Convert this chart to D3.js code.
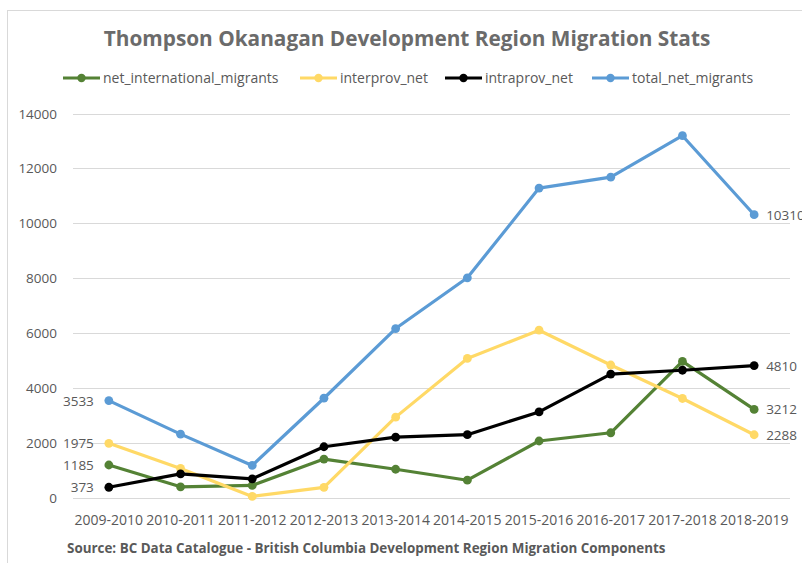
<!DOCTYPE html>
<html>
<head>
<meta charset="utf-8">
<script src="https://cdn.jsdelivr.net/npm/d3@7"></script>
<style>
  body { margin: 0; background: #fff; }
  text { font-family: "Open Sans", "Liberation Sans", sans-serif; fill: #595959; }
</style>
</head>
<body>
<script>
let years = ['2009-2010', '2010-2011', '2011-2012', '2012-2013', '2013-2014',
  '2014-2015', '2015-2016', '2016-2017', '2017-2018', '2018-2019']

let netInternational = [1185, 390, 440, 1400, 1030, 630, 2060, 2360, 4960, 3212]
let interprovNet = [1975, 1060, 40, 370, 2930, 5070, 6100, 4830, 3610, 2288]
let intraprovNet = [373, 860, 680, 1850, 2200, 2290, 3120, 4500, 4640, 4810]
let totalNet = [3533, 2310, 1170, 3620, 6160, 8010, 11280, 11680, 13190, 10310]

let seriesNames = ['net_international_migrants', 'interprov_net', 'intraprov_net', 'total_net_migrants']
let yTicks = [0, 2000, 4000, 6000, 8000, 10000, 12000, 14000]

let colors = ['#548235', '#ffd966', '#000000', '#5b9bd5']
let series = [netInternational, interprovNet, intraprovNet, totalNet]

let width = 802, height = 563

let svg = d3.select('body').append('svg')
  .attr('width', width)
  .attr('height', height)

// chart frame (runs off the right and bottom like the screenshot)
svg.append('rect')
  .attr('x', 7.5).attr('y', 10.5)
  .attr('width', 840).attr('height', 600)
  .attr('fill', 'none')
  .attr('stroke', '#d9d9d9')

let x = d3.scalePoint().domain(years).range([73, 790]).padding(0.5)
let y = d3.scaleLinear().domain([0, 14000]).range([497.5, 113.5])

// grid
svg.append('g').selectAll('line').data(yTicks).enter()
  .append('line')
  .attr('x1', 73).attr('x2', 790)
  .attr('y1', d => Math.round(y(d)) + 0.5)
  .attr('y2', d => Math.round(y(d)) + 0.5)
  .attr('stroke', '#d9d9d9')

// y labels
svg.append('g').selectAll('text').data(yTicks).enter()
  .append('text')
  .attr('x', 57)
  .attr('y', d => y(d) + 5)
  .attr('text-anchor', 'end')
  .style('font-size', '13.5px')
  .text(d => d)

// x labels
svg.append('g').selectAll('text').data(years).enter()
  .append('text')
  .attr('x', d => x(d))
  .attr('y', 525)
  .attr('text-anchor', 'middle')
  .style('font-size', '14px')
  .text(d => d)

let line = d3.line()
  .x((d, i) => x(years[i]))
  .y(d => y(d))

let g = svg.append('g').selectAll('g').data(series).enter().append('g')

g.append('path')
  .attr('d', d => line(d))
  .attr('fill', 'none')
  .attr('stroke', (d, i) => colors[i])
  .attr('stroke-width', 3.2)
  .attr('stroke-linejoin', 'round')

g.each(function (s, si) {
  d3.select(this).selectAll('circle').data(s).enter()
    .append('circle')
    .attr('cx', (d, i) => x(years[i]))
    .attr('cy', d => y(d))
    .attr('r', 4.4)
    .attr('fill', colors[si])
})

// end labels
svg.append('g').selectAll('text').data(series).enter()
  .append('text')
  .attr('x', x(years[0]) - 15)
  .attr('y', d => y(d[0]) + 5)
  .attr('text-anchor', 'end')
  .style('font-size', '13.5px')
  .text(d => d[0])

svg.append('g').selectAll('text').data(series).enter()
  .append('text')
  .attr('x', x(years[9]) + 12)
  .attr('y', d => y(d[9]) + 5)
  .style('font-size', '13.5px')
  .text(d => d[9])

// title
svg.append('text')
  .attr('x', 407).attr('y', 46)
  .attr('text-anchor', 'middle')
  .style('font-size', '20.8px')
  .style('font-weight', 'bold')
  .style('fill', '#6b6b6b')
  .text('Thompson Okanagan Development Region Migration Stats')

// legend
let legX = [63, 300, 445, 592]
let leg = svg.append('g').selectAll('g').data(seriesNames).enter()
  .append('g')
  .attr('transform', (d, i) => `translate(${legX[i]},78)`)

leg.append('line')
  .attr('x1', 0).attr('x2', 37)
  .attr('stroke', (d, i) => colors[i])
  .attr('stroke-width', 3.2)
leg.append('circle')
  .attr('cx', 18.5).attr('r', 4.2)
  .attr('fill', (d, i) => colors[i])
leg.append('text')
  .attr('x', 40).attr('y', 5)
  .style('font-size', '14px')
  .text(d => d)

// source
svg.append('text')
  .attr('x', 67).attr('y', 553)
  .style('font-size', '13.4px')
  .style('font-weight', 'bold')
  .text('Source:  BC Data Catalogue - British Columbia  Development Region Migration Components')
</script>
</body>
</html>
